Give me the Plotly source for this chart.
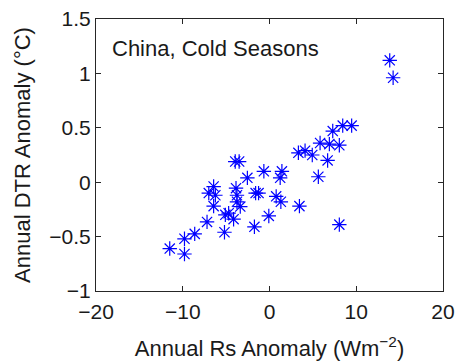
import plotly.graph_objects as go

# Annual anomalies, China cold seasons
rs_anomaly = [13.86, 14.25, 8.44, 9.47, 7.29, 5.83, 6.90, 8.05, 3.33, 4.10,
              4.93, 6.70, 5.63, 8.05, 3.45, 1.43, 1.23, -0.65, -2.55, -3.95,
              -3.50, 0.77, 1.31, -0.08, -1.74, -1.60, -1.26, -3.86, -3.75, -3.75,
              -3.37, -4.71, -5.09, -4.14, -5.19, -6.44, -7.00, -6.24, -6.44, -7.20,
              -8.62, -9.80, -9.80, -11.50]
dtr_anomaly = [1.12, 0.96, 0.52, 0.52, 0.47, 0.36, 0.35, 0.34, 0.27, 0.29,
               0.25, 0.20, 0.05, -0.39, -0.22, 0.10, 0.04, 0.10, 0.04, 0.19,
               0.19, -0.13, -0.18, -0.31, -0.41, -0.10, -0.10, -0.055, -0.12, -0.18,
               -0.224, -0.285, -0.30, -0.34, -0.46, -0.04, -0.10, -0.12, -0.22, -0.365,
               -0.475, -0.52, -0.66, -0.61]

x_ticks = [-20, -10, 0, 10, 20]
y_ticks = [-1, -0.5, 0, 0.5, 1, 1.5]

FONT = "Liberation Sans, Arial, Helvetica, sans-serif"
INK = "#1a1a1a"

fig = go.Figure(
    go.Scatter(
        x=rs_anomaly,
        y=dtr_anomaly,
        mode="markers",
        marker=dict(symbol="asterisk-open", size=12, color="#0000ff",
                    line=dict(color="#0000ff", width=1.2)),
        showlegend=False,
    )
)

axis_common = dict(
    showgrid=False,
    zeroline=False,
    showline=True,
    linecolor="#262626",
    linewidth=1,
    mirror="ticks",
    ticks="inside",
    ticklen=5,
    tickcolor="#262626",
    tickfont=dict(family=FONT, size=21, color=INK),
    automargin=False,
)

fig.update_xaxes(
    range=[-20, 20], tickvals=x_ticks, ticklabelstandoff=2,
    title=dict(text="Annual Rs Anomaly (Wm<sup>−2</sup>)",
               font=dict(family=FONT, size=22, color=INK), standoff=18),
    **axis_common,
)
fig.update_yaxes(
    range=[-1, 1.5], tickvals=y_ticks,
    title=dict(text="Annual DTR Anomaly (°C)",
               font=dict(family=FONT, size=22, color=INK), standoff=12),
    **axis_common,
)

fig.add_annotation(
    text="China, Cold Seasons", xref="paper", yref="paper",
    x=0.04, y=0.89, xanchor="left", yanchor="middle", showarrow=False,
    font=dict(family=FONT, size=22, color=INK),
)

fig.update_layout(
    width=458, height=361,
    margin=dict(l=96, r=15, t=19, b=70),
    paper_bgcolor="white", plot_bgcolor="white",
)

fig.write_html("out.html")
